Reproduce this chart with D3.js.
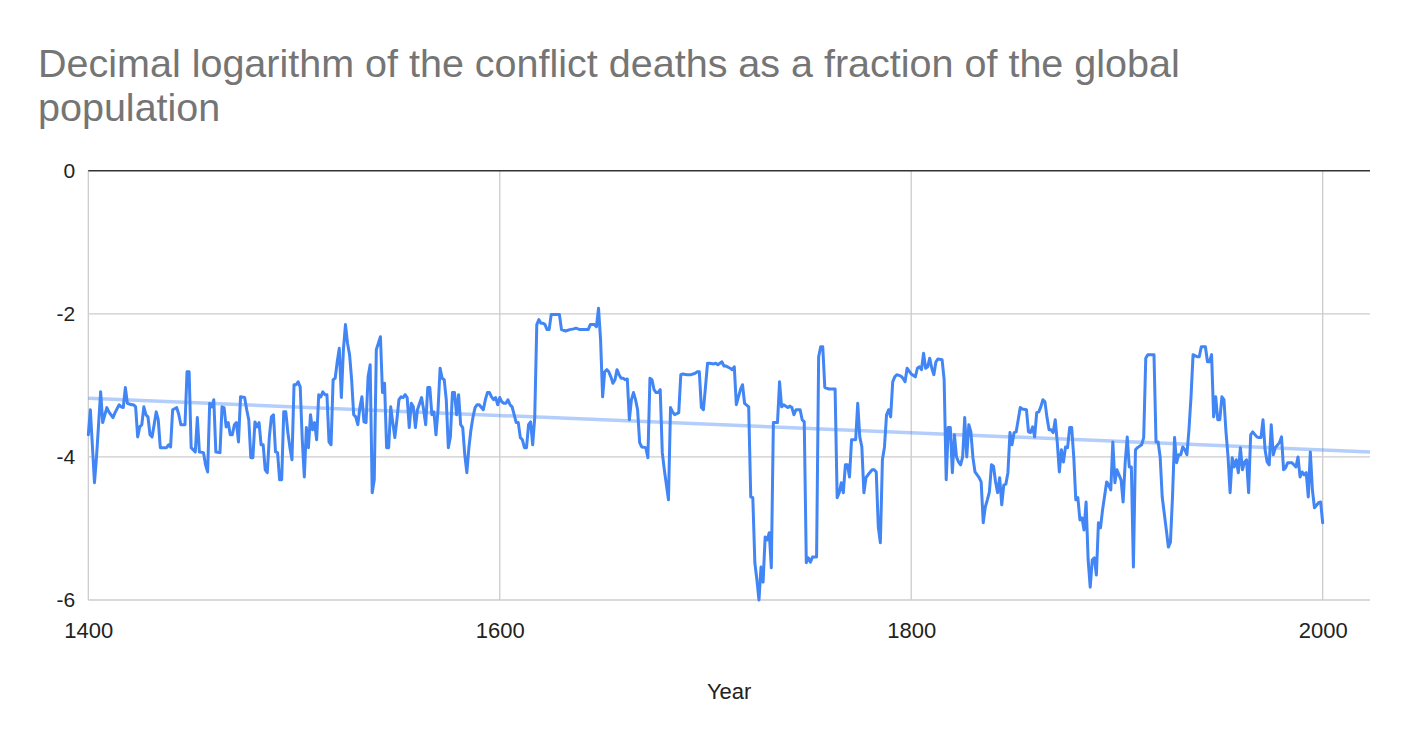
<!DOCTYPE html>
<html>
<head>
<meta charset="utf-8">
<script src="https://cdn.jsdelivr.net/npm/d3@7"></script>
<style>
  html, body { margin: 0; padding: 0; background: #fff; }
  svg { display: block; }
  text { font-family: Arial, "Liberation Sans", sans-serif; }
</style>
</head>
<body>
<svg id="chart" width="1408" height="742"></svg>
<script>
const titleLines = ["Decimal logarithm of the conflict deaths as a fraction of the global", "population"];
const xTitle = "Year";
const xTicks = [1400, 1600, 1800, 2000];
const yTicks = [0, -2, -4, -6];

const years = [
1400,1401,1403,1404,1406,1407,1409,1410,1412,1413,1415,1416,1417,1418,1419,1421,1422,1423,1424,1425,
1426,1427,1428,1429,1430,1431,1432,1433,1434,1435,1438,1439,1440,1441,1443,1444,1445,1447,1448,1449,
1450,1452,1453,1454,1456,1457,1458,1459,1460,1461,1462,1464,1465,1466,1467,1468,1469,1470,1471,1472,
1473,1474,1476,1477,1478,1479,1480,1481,1482,1483,1484,1485,1486,1487,1488,1489,1490,1491,1492,1493,
1494,1495,1496,1497,1498,1499,1500,1501,1502,1503,1504,1505,1506,1507,1508,1509,1510,1511,1512,1513,
1514,1515,1516,1517,1518,1519,1520,1521,1522,1523,1524,1525,1526,1527,1528,1529,1530,1531,1532,1533,
1534,1535,1536,1537,1538,1539,1540,1541,1542,1543,1544,1545,1546,1547,1548,1549,1550,1551,1552,1553,
1554,1555,1556,1557,1558,1559,1560,1562,1563,1564,1565,1566,1567,1568,1569,1570,1571,1572,1573,1574,
1575,1576,1577,1578,1579,1580,1581,1582,1583,1584,1585,1586,1587,1588,1589,1590,1592,1593,1594,1595,
1596,1597,1598,1599,1600,1601,1602,1603,1604,1605,1606,1607,1608,1609,1610,1611,1612,1613,1614,1615,
1616,1617,1618,1619,1620,1621,1622,1623,1624,1625,1627,1629,1630,1632,1634,1636,1637,1639,1641,1643,
1644,1646,1647,1648,1649,1650,1651,1652,1653,1654,1655,1656,1657,1658,1659,1660,1661,1662,1663,1664,
1665,1666,1667,1668,1669,1671,1672,1673,1674,1675,1676,1677,1678,1679,1680,1682,1683,1684,1685,1687,
1688,1689,1691,1693,1695,1696,1697,1698,1699,1700,1701,1702,1704,1705,1706,1708,1709,1710,1712,1713,
1714,1715,1716,1717,1718,1719,1721,1722,1723,1724,1725,1726,1727,1728,1729,1730,1731,1732,1733,1735,
1736,1737,1738,1740,1741,1742,1743,1744,1746,1747,1748,1749,1750,1751,1752,1754,1755,1756,1757,1758,
1760,1762,1763,1764,1765,1766,1767,1768,1769,1770,1771,1773,1774,1775,1776,1777,1778,1779,1781,1782,
1783,1784,1785,1786,1787,1788,1789,1790,1791,1792,1793,1795,1796,1797,1798,1799,1800,1802,1803,1804,
1805,1806,1807,1808,1809,1810,1811,1812,1813,1815,1816,1817,1818,1819,1820,1821,1822,1823,1824,1825,
1826,1827,1828,1829,1830,1831,1833,1834,1835,1836,1837,1838,1839,1840,1841,1842,1843,1844,1845,1846,
1847,1848,1849,1850,1851,1853,1854,1856,1857,1858,1859,1860,1861,1862,1863,1864,1865,1866,1867,1868,
1869,1870,1871,1872,1873,1874,1875,1876,1877,1878,1879,1880,1881,1882,1883,1884,1885,1886,1887,1888,
1889,1890,1891,1892,1893,1895,1896,1897,1898,1899,1900,1901,1902,1903,1904,1905,1906,1907,1908,1909,
1910,1912,1913,1914,1915,1918,1919,1920,1921,1922,1924,1925,1926,1927,1928,1929,1930,1931,1932,1933,
1934,1935,1936,1937,1939,1940,1941,1943,1944,1945,1946,1947,1948,1949,1950,1951,1952,1953,1954,1955,
1956,1957,1958,1959,1960,1961,1962,1963,1964,1965,1966,1968,1969,1970,1971,1972,1973,1974,1975,1976,
1977,1979,1980,1981,1982,1983,1985,1986,1987,1988,1989,1990,1991,1992,1993,1994,1995,1996,1998,1999,
2000
];

const values = [
-3.69,-3.34,-4.36,-4.00,-3.09,-3.52,-3.31,-3.37,-3.45,-3.38,-3.27,-3.30,-3.31,-3.03,-3.25,-3.27,-3.27,-3.30,-3.72,-3.58,
-3.55,-3.30,-3.41,-3.44,-3.69,-3.72,-3.55,-3.37,-3.48,-3.87,-3.87,-3.83,-3.86,-3.34,-3.31,-3.41,-3.55,-3.55,-2.81,-2.81,
-3.87,-3.93,-3.45,-3.93,-3.94,-4.11,-4.21,-3.25,-3.30,-3.20,-3.93,-3.94,-3.30,-3.31,-3.58,-3.52,-3.69,-3.69,-3.55,-3.52,
-3.79,-3.16,-3.17,-3.34,-3.48,-4.01,-4.01,-3.51,-3.58,-3.52,-3.83,-3.83,-4.18,-4.22,-3.72,-3.44,-3.41,-3.93,-3.94,-4.32,
-4.32,-3.37,-3.37,-3.66,-3.87,-4.04,-2.99,-2.99,-2.95,-3.02,-3.76,-4.28,-3.59,-3.87,-3.41,-3.62,-3.52,-3.76,-3.13,-3.16,
-3.09,-3.13,-3.13,-3.79,-3.83,-2.92,-2.90,-2.67,-2.48,-3.17,-2.50,-2.15,-2.41,-2.57,-2.92,-3.41,-3.44,-3.55,-3.31,-3.16,
-3.51,-3.52,-2.88,-2.71,-4.50,-4.32,-2.50,-2.41,-2.32,-3.10,-2.97,-3.87,-3.87,-3.30,-3.52,-3.73,-3.48,-3.20,-3.16,-3.17,
-3.13,-3.17,-3.59,-3.25,-3.30,-3.59,-3.34,-3.17,-3.34,-3.55,-3.03,-3.03,-3.41,-3.37,-3.69,-3.34,-2.76,-2.90,-2.92,-3.20,
-3.87,-3.72,-3.10,-3.10,-3.41,-3.13,-3.55,-3.59,-3.97,-4.22,-3.87,-3.62,-3.44,-3.31,-3.27,-3.27,-3.34,-3.20,-3.10,-3.10,
-3.16,-3.20,-3.17,-3.27,-3.17,-3.23,-3.25,-3.25,-3.20,-3.27,-3.30,-3.41,-3.52,-3.52,-3.73,-3.76,-3.87,-3.87,-3.55,-3.51,
-3.83,-3.45,-2.15,-2.08,-2.13,-2.13,-2.15,-2.22,-2.22,-2.01,-2.01,-2.01,-2.22,-2.24,-2.22,-2.21,-2.20,-2.22,-2.22,-2.22,
-2.15,-2.15,-2.18,-1.92,-2.36,-3.16,-2.81,-2.78,-2.81,-2.88,-2.97,-2.92,-2.78,-2.85,-2.90,-2.90,-2.92,-2.91,-3.48,-3.20,
-3.10,-3.20,-3.34,-3.80,-3.86,-3.87,-4.01,-2.90,-2.92,-3.06,-3.10,-3.10,-3.06,-3.94,-4.18,-4.60,-3.31,-3.37,-3.41,-3.38,
-2.85,-2.84,-2.85,-2.85,-2.83,-2.81,-2.81,-3.31,-3.34,-3.02,-2.69,-2.69,-2.70,-2.69,-2.71,-2.67,-2.73,-2.73,-2.76,-2.78,
-2.74,-3.27,-3.16,-3.06,-2.99,-3.25,-3.30,-4.56,-4.57,-5.48,-5.72,-6.00,-5.54,-5.75,-5.12,-5.16,-5.06,-5.55,-3.52,-3.52,
-2.95,-3.30,-3.27,-3.31,-3.29,-3.31,-3.41,-3.34,-3.34,-3.48,-3.51,-5.48,-5.41,-5.47,-5.40,-5.40,-2.60,-2.46,-2.46,-3.03,
-3.05,-3.05,-3.05,-4.57,-4.50,-4.36,-4.50,-4.11,-4.11,-4.28,-3.76,-3.76,-3.25,-3.72,-3.86,-4.50,-4.29,-4.25,-4.18,-4.18,
-4.21,-4.98,-5.20,-4.04,-3.86,-3.41,-3.34,-3.44,-2.95,-2.88,-2.85,-2.87,-2.90,-2.95,-2.76,-2.80,-2.84,-2.88,-2.76,-2.74,
-2.78,-2.55,-2.76,-2.74,-2.62,-2.76,-2.85,-2.67,-2.63,-2.64,-2.92,-4.32,-3.59,-3.59,-4.22,-3.69,-4.00,-4.07,-4.11,-4.00,
-3.45,-4.00,-3.55,-3.65,-4.01,-4.21,-4.29,-4.35,-4.92,-4.70,-4.60,-4.49,-4.11,-4.13,-4.35,-4.50,-4.29,-4.67,-4.39,-4.38,
-4.22,-3.66,-3.83,-3.66,-3.65,-3.31,-3.33,-3.34,-3.65,-3.66,-3.58,-3.72,-3.38,-3.37,-3.30,-3.20,-3.23,-3.45,-3.62,-3.62,
-3.66,-3.48,-3.80,-4.21,-3.90,-4.07,-3.86,-3.87,-3.59,-3.59,-4.00,-4.60,-4.57,-4.88,-4.85,-5.02,-4.63,-5.44,-5.82,-5.44,
-5.41,-5.65,-4.92,-4.99,-4.74,-4.35,-4.39,-4.46,-3.79,-4.36,-4.18,-4.25,-4.32,-4.63,-4.08,-3.72,-4.14,-4.14,-5.54,-3.90,
-3.87,-3.83,-3.73,-2.62,-2.57,-2.57,-3.79,-3.79,-4.00,-4.56,-5.02,-5.26,-5.19,-4.56,-3.73,-4.08,-3.97,-3.97,-3.86,-3.90,
-3.97,-3.62,-3.16,-2.57,-2.60,-2.60,-2.46,-2.46,-2.67,-2.67,-2.57,-3.44,-3.16,-3.48,-3.48,-3.16,-3.20,-3.65,-4.00,-4.50,
-4.01,-4.14,-4.04,-4.22,-3.87,-4.18,-4.07,-4.04,-4.50,-3.69,-3.65,-3.72,-3.73,-3.73,-3.48,-3.90,-4.07,-4.11,-3.55,-3.97,
-3.87,-3.80,-3.72,-4.18,-4.15,-4.08,-4.08,-4.11,-4.14,-4.00,-4.28,-4.21,-4.25,-4.22,-4.56,-3.93,-4.46,-4.71,-4.64,-4.63,
-4.92
];

// Linear trendline (value at start and end of x range)
const trendYears = [1400, 2023];
const trendValues = [-3.18, -3.93];

const xDomain = [1400, 2023];
const yDomain = [-6, 0];

const svg = d3.select("#chart");
const x = d3.scaleLinear().domain(xDomain).range([88.3, 1370]);
const y = d3.scaleLinear().domain(yDomain).range([600, 170.8]);

// Title
const title = svg.append("text")
  .attr("x", 38).attr("y", 77)
  .attr("font-size", 39.5).attr("fill", "#757575");
titleLines.forEach((t, i) => {
  title.append("tspan").attr("x", 38).attr("y", 77 + i * 44).text(t);
});

// Vertical gridlines
svg.append("g").selectAll("line").data(xTicks).join("line")
  .attr("x1", d => x(d)).attr("x2", d => x(d))
  .attr("y1", y(0)).attr("y2", y(-6))
  .attr("stroke", "#cccccc").attr("stroke-width", 1.3);

// Horizontal gridlines
svg.append("g").selectAll("line").data(yTicks.filter(d => d !== 0)).join("line")
  .attr("x1", x(1400)).attr("x2", x(xDomain[1]))
  .attr("y1", d => y(d)).attr("y2", d => y(d))
  .attr("stroke", "#cccccc").attr("stroke-width", 1.3);

// Zero baseline
svg.append("line")
  .attr("x1", x(1400)).attr("x2", x(xDomain[1]))
  .attr("y1", y(0)).attr("y2", y(0))
  .attr("stroke", "#333333").attr("stroke-width", 1.4);

// Y axis labels
const yAxis = d3.axisLeft(y).tickValues(yTicks).tickSize(0).tickPadding(13).tickFormat(d => String(d));
const gy = svg.append("g").attr("transform", `translate(${x(1400)},0)`).call(yAxis);
gy.select(".domain").remove();
gy.selectAll("text").attr("font-size", 21).attr("fill", "#222").attr("font-family", "Arial, 'Liberation Sans', sans-serif");

// X axis labels
const xAxis = d3.axisBottom(x).tickValues(xTicks).tickSize(0).tickPadding(22).tickFormat(d => String(d));
const gx = svg.append("g").attr("transform", `translate(0,${y(-6)})`).call(xAxis);
gx.select(".domain").remove();
gx.selectAll("text").attr("font-size", 22).attr("fill", "#222").attr("font-family", "Arial, 'Liberation Sans', sans-serif");

// X axis title
svg.append("text")
  .attr("x", (x(1400) + x(xDomain[1])) / 2).attr("y", 699)
  .attr("text-anchor", "middle").attr("font-size", 22).attr("fill", "#222")
  .text(xTitle);

// Trendline
const trendData = trendYears.map((t, i) => ({ year: t, value: trendValues[i] }));
svg.append("path")
  .datum(trendData)
  .attr("fill", "none")
  .attr("stroke", "#4285F4").attr("stroke-opacity", 0.4)
  .attr("stroke-width", 3.5)
  .attr("d", d3.line().x(d => x(d.year)).y(d => y(d.value)));

// Main series
const data = years.map((yr, i) => ({ year: yr, value: values[i] }));
svg.append("path")
  .datum(data)
  .attr("fill", "none")
  .attr("stroke", "#4285F4")
  .attr("stroke-width", 3)
  .attr("stroke-linejoin", "round")
  .attr("stroke-linecap", "round")
  .attr("d", d3.line().x(d => x(d.year)).y(d => y(d.value)));
</script>
</body>
</html>
